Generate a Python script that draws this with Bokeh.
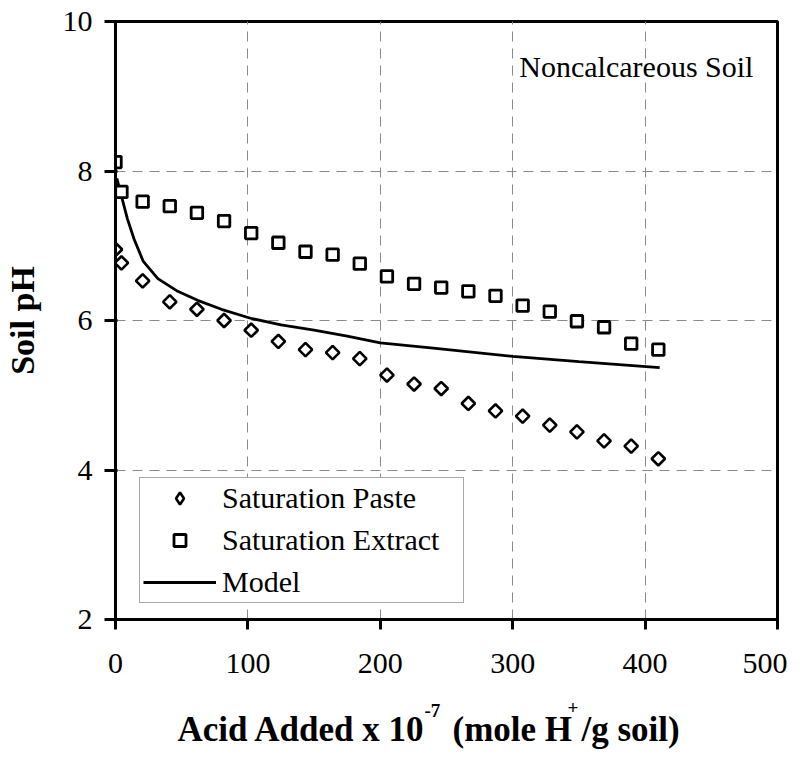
from bokeh.plotting import figure
from bokeh.models import Label, Legend, LegendItem, FixedTicker, Range1d, CDSView, IndexFilter
from bokeh.layouts import column
from bokeh.core.properties import value
from bokeh.embed import file_html
from bokeh.resources import INLINE
import math

# ---------------- data ----------------
x_acid = [0, 4.5, 20.5, 41, 61.5, 82, 102.5, 123, 143.5, 164, 184.5, 205,
          225.5, 246, 266.5, 287, 307.5, 328, 348.5, 369, 389.5, 410]
ph_paste = [6.95, 6.77, 6.53, 6.25, 6.15, 6.00, 5.87, 5.72, 5.61, 5.57, 5.49,
            5.27, 5.15, 5.09, 4.89, 4.79, 4.72, 4.60, 4.51, 4.39, 4.32, 4.15]
ph_extract = [8.12, 7.72, 7.59, 7.53, 7.44, 7.33, 7.17, 7.04, 6.92, 6.88, 6.76,
              6.59, 6.49, 6.44, 6.39, 6.33, 6.20, 6.12, 5.99, 5.91, 5.69, 5.61]
x_model = [1, 5, 9, 14, 21, 32, 47, 62, 80, 102, 125, 150, 175, 200, 240, 300, 350, 411]
ph_model = [7.90, 7.63, 7.36, 7.09, 6.79, 6.56, 6.39, 6.27, 6.15, 6.03, 5.94,
            5.87, 5.79, 5.70, 5.63, 5.52, 5.45, 5.37]

x_ticks = [0, 100, 200, 300, 400, 500]
y_ticks = [2, 4, 6, 8, 10]
series_names = ["Saturation Paste", "Saturation Extract", "Model"]
panel_note = "Noncalcareous Soil"
y_title = "Soil pH"
x_title_parts = ["Acid Added x 10", "-7", "(mole H", "+", "/g soil)"]
x_title_is_sup = [False, True, False, True, False]

SERIF = "Liberation Serif"
FRAME_W = 662

p = figure(frame_width=FRAME_W, frame_height=598,
           x_range=Range1d(0, 500), y_range=Range1d(2, 10),
           output_backend="svg", toolbar_location=None,
           min_border_left=114, min_border_right=10,
           min_border_top=21, min_border_bottom=60)

p.background_fill_color = "white"
p.border_fill_color = "white"
p.outline_line_color = "black"
p.outline_line_width = 3

# grid
for g in (p.xgrid, p.ygrid):
    g.grid_line_color = "#8a8a8a"
    g.grid_line_dash = "10 7"
    g.grid_line_width = 1
p.xgrid.ticker = FixedTicker(ticks=x_ticks)
p.ygrid.ticker = FixedTicker(ticks=y_ticks)

# axes
p.xaxis.ticker = FixedTicker(ticks=x_ticks)
p.yaxis.ticker = FixedTicker(ticks=y_ticks)
for ax in (p.xaxis[0], p.yaxis[0]):
    ax.axis_line_width = 3
    ax.axis_line_color = "black"
    ax.major_tick_line_width = 3
    ax.major_tick_line_color = "black"
    ax.minor_tick_line_color = None
    ax.major_label_text_font = SERIF
    ax.major_label_text_font_size = "30px"
    ax.major_label_text_color = "black"
p.xaxis.major_tick_out = 10
p.xaxis.major_tick_in = 0
p.xaxis.major_label_standoff = 24
p.yaxis.major_tick_out = 11
p.yaxis.major_tick_in = 2
p.yaxis.major_label_standoff = 12

p.yaxis.axis_label = y_title
p.yaxis.axis_label_text_font = SERIF
p.yaxis.axis_label_text_font_size = "34px"
p.yaxis.axis_label_text_font_style = "bold"
p.yaxis.axis_label_text_color = "black"
p.yaxis.axis_label_standoff = 19

# glyphs
r_model = p.line(x_model, ph_model, line_color="black", line_width=2.8)
r_extract = p.scatter(x_acid, ph_extract, marker="square", size=11.5,
                      line_color="black", line_width=2.8, fill_color="white")
# legend swatch for the diamonds (the legend always draws markers unrotated);
# it shows only the first point, at a negligible size, hidden under the real marker
r_paste_key = p.scatter(x_acid, ph_paste, marker="diamond", size=0.1,
                        line_color="black", line_width=2.6, fill_color="white",
                        view=CDSView(filter=IndexFilter(indices=[0])))
r_paste = p.scatter(x_acid, ph_paste, marker="square", size=9.5, angle=math.pi / 4,
                    line_color="black", line_width=2.6, fill_color="white")

legend = Legend(items=[LegendItem(label=series_names[0], renderers=[r_paste_key]),
                       LegendItem(label=series_names[1], renderers=[r_extract]),
                       LegendItem(label=series_names[2], renderers=[r_model])],
                location=(24, 16), orientation="vertical")
legend.label_text_font = SERIF
legend.label_text_font_size = "30px"
legend.label_text_color = "black"
legend.glyph_width = 73
legend.glyph_height = 30
legend.label_height = 30
legend.label_width = 238
legend.label_standoff = 6
legend.spacing = 8
legend.padding = 3
legend.margin = 0
legend.border_line_color = "#555555"
legend.border_line_width = 1
legend.background_fill_color = "white"
legend.background_fill_alpha = 1
p.add_layout(legend)

# note
p.add_layout(Label(x=305, y=9.40, text=panel_note, text_font=SERIF,
                   text_font_size="30px", text_color="black",
                   text_baseline="alphabetic", text_align="left"))

# ---------------- x title strip (own figure so the text is not clipped) ----------------
STRIP_H = 70
p2 = figure(frame_width=FRAME_W, frame_height=STRIP_H,
            x_range=Range1d(0, FRAME_W), y_range=Range1d(0, STRIP_H),
            output_backend="svg", toolbar_location=None,
            x_axis_location=None, y_axis_location=None,
            min_border_left=114, min_border_right=10,
            min_border_top=0, min_border_bottom=0)
p2.grid.visible = False
p2.outline_line_color = None
p2.background_fill_color = "white"
p2.border_fill_color = "white"

# piece start offsets (px from the plot's left edge) and baseline raises
title_x = [62, 309, 337, 452, 466]
title_raise = [0, 19, 0, 22, 0]
base_y = 20
for t, sup, tx, dy in zip(x_title_parts, x_title_is_sup, title_x, title_raise):
    size = 19 if sup else 35
    p2.text(x=[tx], y=[base_y + dy], text=[t],
            text_font=value(SERIF), text_font_size=value(f"{size}px"),
            text_font_style="bold", text_color="black",
            text_baseline="alphabetic", text_align="left")

layout = column(p, p2, spacing=0)
open("out.html", "w").write(file_html(layout, INLINE))
